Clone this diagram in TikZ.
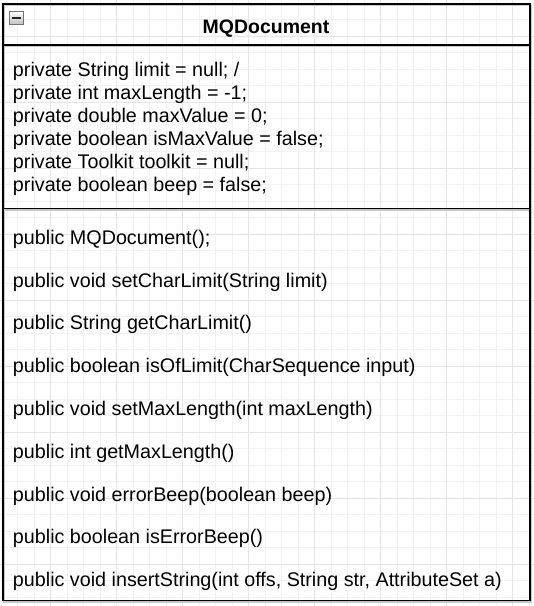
\documentclass[tikz,border=0pt]{standalone}
\usepackage{fontspec}
\setmainfont{Liberation Sans}
\begin{document}
\begin{tikzpicture}[x=0.75pt,y=-0.75pt,
  txt/.style={anchor=base west, inner sep=0pt, font=\fontsize{14.8pt}{17pt}\selectfont},
  ttl/.style={anchor=base, inner sep=0pt, font=\fontsize{14.6pt}{17pt}\selectfont\bfseries},
  frame/.style={draw=black, line width=1.2pt},
  shade line/.style={draw=black!22, line width=1.2pt},
  minorgrid/.style={draw=black!5, line width=0.75pt},
  majorgrid/.style={draw=black!10, line width=0.75pt}]
\useasboundingbox (0,0) rectangle (534,606);
\fill[white] (0,0) rectangle (534,606);
% grid
\foreach \i in {0,...,32} {\draw[minorgrid] ({1.2+16.5*\i},0) -- ({1.2+16.5*\i},606);}
\foreach \j in {0,...,36} {\draw[minorgrid] (0,{3.3+16.5*\j}) -- (534,{3.3+16.5*\j});}
\foreach \i in {0,...,7} {\draw[majorgrid] ({50.7+66*\i},0) -- ({50.7+66*\i},606);}
\foreach \j in {0,...,8} {\draw[majorgrid] (0,{36.3+66*\j}) -- (534,{36.3+66*\j});}
% shadow
\begin{scope}[shift={(1.4,1.4)}]
  \draw[shade line] (2.7,4) rectangle (529.7,600.5);
  \draw[shade line] (2.7,45) -- (529.7,45);
  \draw[shade line] (2.7,208.3) -- (529.7,208.3);
\end{scope}
% class frame
\draw[frame] (2.7,4) rectangle (529.7,600.5);
\draw[frame] (2.7,45) -- (529.7,45);
\draw[frame] (2.7,208.3) -- (529.7,208.3);
% collapse icon
\shade[top color=white, bottom color=black!25] (9.5,11.5) rectangle (23.5,24.5);
\draw[black!55, line width=0.8pt] (9.5,11.5) rectangle (23.5,24.5);
\draw[black!85, line width=1.6pt] (12,18) -- (21,18);
% title
\node[ttl] (title) at (266,34) {MQDocument};
% attributes
\node[txt] (a1) at (12.7,76.7) {private String limit = null; /};
\node[txt] (a2) at (12.7,99.7) {private int maxLength = -1;};
\node[txt] (a3) at (12.7,122.7) {private double maxValue = 0;};
\node[txt] (a4) at (12.7,145.7) {private boolean isMaxValue = false;};
\node[txt] (a5) at (12.7,168.7) {private Toolkit toolkit = null;};
\node[txt] (a6) at (12.7,191.7) {private boolean beep = false;};
% methods
\node[txt] (m1) at (12.7,244.3) {public MQDocument();};
\node[txt] (m2) at (12.7,287.1) {public void setCharLimit(String limit)};
\node[txt] (m3) at (12.7,329.9) {public String getCharLimit()};
\node[txt] (m4) at (12.7,372.7) {public boolean isOfLimit(CharSequence input)};
\node[txt] (m5) at (12.7,415.5) {public void setMaxLength(int maxLength)};
\node[txt] (m6) at (12.7,458.3) {public int getMaxLength()};
\node[txt] (m7) at (12.7,501.1) {public void errorBeep(boolean beep)};
\node[txt] (m8) at (12.7,543.9) {public boolean isErrorBeep()};
\node[txt] (m9) at (12.7,586.7) {public void insertString(int offs, String str, AttributeSet a)};
\end{tikzpicture}
\end{document}
